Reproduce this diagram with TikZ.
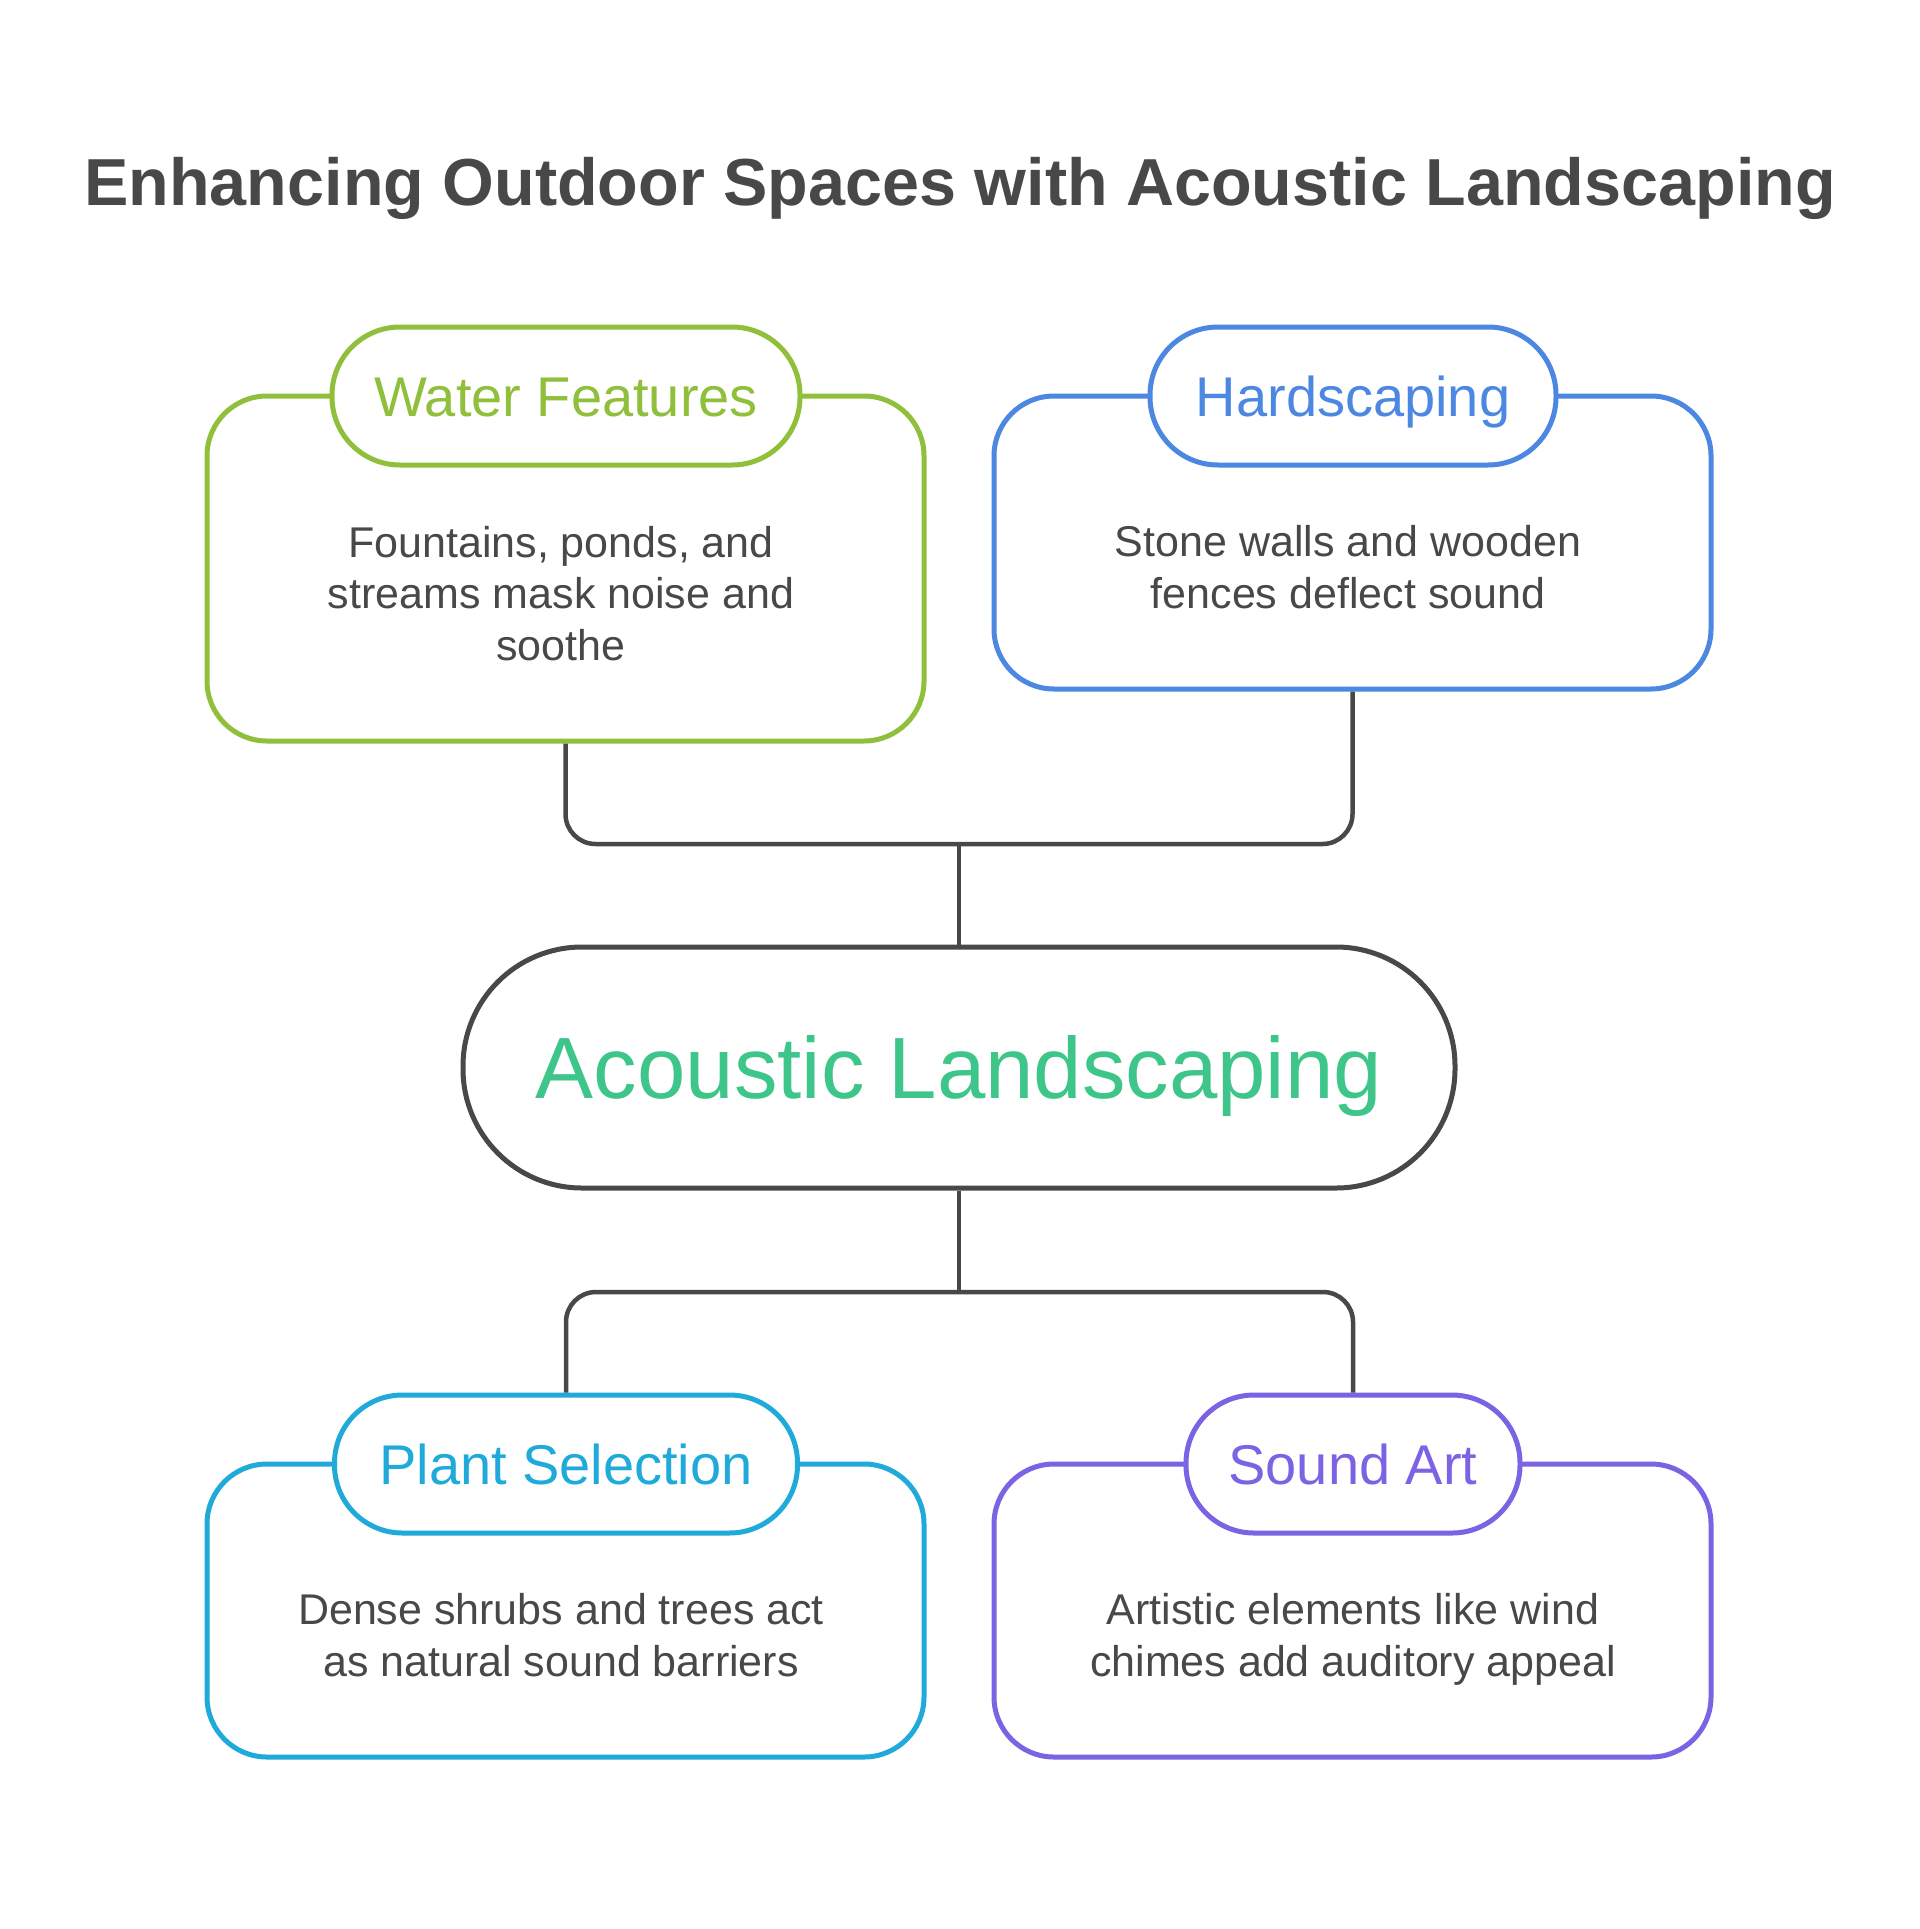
\documentclass[tikz,border=0pt]{standalone}
\usepackage{fontspec}
\setmainfont{Liberation Sans}
\definecolor{txt}{HTML}{484848}
\definecolor{cgreen}{HTML}{8FBF3B}
\definecolor{cblue}{HTML}{4C87E2}
\definecolor{ccyan}{HTML}{20AADA}
\definecolor{cpurple}{HTML}{7C63E3}
\definecolor{cmint}{HTML}{3EC68A}
\newcommand{\bline}[1]{\strut#1}
\begin{document}
\begin{tikzpicture}[x=1pt,y=-1pt,
  box/.style={draw, line width=5pt, rounded corners=60pt, minimum width=717pt, inner sep=0pt, fill=white},
  pill/.style={draw, line width=5pt, rounded corners=68pt, minimum height=138pt, inner sep=0pt, fill=white,
    font=\fontsize{56}{60}\selectfont, text height=40pt, text depth=0pt},
  body/.style={align=center, text=txt, inner sep=0pt, font=\fontsize{43}{51.5}\selectfont},
  conn/.style={draw=txt, line width=4.5pt, rounded corners=30pt}]
\fill[white] (0,0) rectangle (1919,1929);
\useasboundingbox (0,0) rectangle (1919,1929);

\node[anchor=base, text=txt, font=\bfseries\fontsize{66.5}{70}\selectfont] (title) at (960,205)
  {Enhancing Outdoor Spaces with Acoustic Landscaping};

% top boxes
\node[box, draw=cgreen, minimum height=345pt] (wfbox) at (565.5,568.5) {};
\node[pill, draw=cgreen, text=cgreen, minimum width=468pt] (wfpill) at (566,396) {Water Features};
\node[body] (wftext) at (561,598.2) {\bline{Fountains, ponds, and}\\\bline{streams mask noise and}\\\bline{soothe}};

\node[box, draw=cblue, minimum height=293pt] (hsbox) at (1352.5,542.5) {};
\node[pill, draw=cblue, text=cblue, minimum width=406pt] (hspill) at (1353,396) {Hardscaping};
\node[body] (hstext) at (1348,572.2) {\bline{Stone walls and wooden}\\\bline{fences deflect sound}};

% central
\node[draw=txt, line width=5pt, rounded corners=119pt, minimum width=992pt, minimum height=241pt,
  inner sep=0pt, fill=white, text=cmint, font=\fontsize{87}{95}\selectfont, text height=62pt, text depth=0pt]
  (center) at (959,1067.5) {Acoustic Landscaping};

% bottom boxes
\node[box, draw=ccyan, minimum height=293pt] (psbox) at (565.5,1610.5) {};
\node[pill, draw=ccyan, text=ccyan, minimum width=463pt] (pspill) at (566,1464) {Plant Selection};
\node[body] (pstext) at (561,1640.2) {\bline{Dense shrubs and trees act}\\\bline{as natural sound barriers}};

\node[box, draw=cpurple, minimum height=293pt] (sabox) at (1352.5,1610.5) {};
\node[pill, draw=cpurple, text=cpurple, minimum width=334pt] (sapill) at (1353,1464) {Sound Art};
\node[body] (satext) at (1353,1640.2) {\bline{Artistic elements like wind}\\\bline{chimes add auditory appeal}};

% connectors
\coordinate (jtop) at (959,844);
\coordinate (jbot) at (959,1292);
\draw[conn] (wfbox.south) |- (jtop) -| (hsbox.south);
\draw[conn] (jtop) -- (center.north);
\draw[conn] (center.south) -- (jbot);
\draw[conn] (pspill.north) |- (jbot) -| (sapill.north);
\end{tikzpicture}
\end{document}
